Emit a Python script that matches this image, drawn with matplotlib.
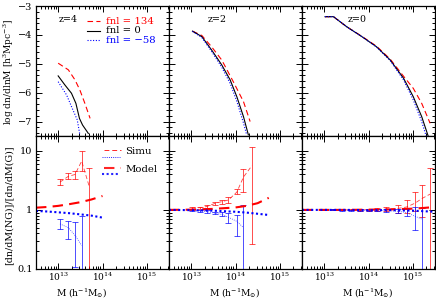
import numpy as np
import matplotlib
matplotlib.use("Agg")
import matplotlib.pyplot as plt
from matplotlib.ticker import FixedLocator, MultipleLocator, LogLocator, NullFormatter, FixedFormatter

plt.rcParams['font.family'] = 'DejaVu Serif'
plt.rcParams['mathtext.fontset'] = 'dejavuserif'
plt.rcParams['font.size'] = 6.8

W, H = 436, 301

# ---- top row: log dn/dlnM vs log10 M ----
z4_m_pos = [13.0, 13.23, 13.38, 13.49, 13.60, 13.72]
z4_y_pos = [-4.98, -5.21, -5.56, -5.91, -6.36, -6.89]
z4_m_zero = [13.0, 13.15, 13.30, 13.40, 13.48, 13.55, 13.68]
z4_y_zero = [-5.42, -5.73, -6.02, -6.37, -6.89, -7.12, -7.41]
z4_m_neg = [13.0, 13.19, 13.30, 13.43, 13.49]
z4_y_neg = [-5.62, -6.08, -6.48, -6.94, -7.46]

z2_m_pos = [13.03, 13.24, 13.46, 13.69, 13.95, 14.18, 14.33]
z2_y_pos = [-3.87, -4.02, -4.41, -4.87, -5.62, -6.31, -7.0]
z2_m_zero = [13.03, 13.24, 13.46, 13.69, 13.88, 14.03, 14.18, 14.29]
z2_y_zero = [-3.87, -4.06, -4.52, -5.04, -5.56, -6.14, -6.83, -7.46]
z2_m_neg = [13.03, 13.24, 13.46, 13.69, 13.88, 14.03, 14.18, 14.25]
z2_y_neg = [-3.88, -4.09, -4.57, -5.12, -5.68, -6.30, -7.05, -7.45]

z0_m_pos = [13.02, 13.21, 13.51, 13.85, 14.18, 14.49, 14.79, 15.01, 15.20, 15.39]
z0_y_pos = [-3.37, -3.37, -3.72, -4.05, -4.39, -4.84, -5.43, -5.85, -6.37, -7.06]
z0_m_zero = [13.02, 13.21, 13.51, 13.85, 14.18, 14.49, 14.79, 15.01, 15.20, 15.35]
z0_y_zero = [-3.37, -3.37, -3.72, -4.06, -4.41, -4.87, -5.50, -6.14, -6.83, -7.52]
z0_m_neg = [13.02, 13.21, 13.51, 13.85, 14.18, 14.49, 14.79, 15.01, 15.20, 15.30]
z0_y_neg = [-3.37, -3.37, -3.72, -4.06, -4.42, -4.89, -5.56, -6.25, -7.0, -7.5]

# ---- bottom row: ratio NG / G ----
# simulations (with error bars)
z4_sm_pos = [13.04, 13.23, 13.38, 13.53, 13.70]
z4_sr_pos = [2.95, 3.7, 3.97, 6.7, 2.5]
z4_slo_pos = [2.6, 3.28, 3.3, 4.5, 0.05]
z4_shi_pos = [3.36, 4.14, 4.5, 9.8, 5.1]
z4_sm_neg = [13.04, 13.23, 13.38, 13.53]
z4_sr_neg = [0.58, 0.5, 0.37, 0.25]
z4_slo_neg = [0.47, 0.32, 0.107, 0.05]
z4_shi_neg = [0.71, 0.65, 0.63, 0.79]

z2_sm_pos = [13.01, 13.2, 13.35, 13.54, 13.69, 13.84, 14.03, 14.18, 14.37]
z2_sr_pos = [1.07, 1.09, 1.14, 1.29, 1.38, 1.47, 2.0, 3.6, 5.6]
z2_slo_pos = [1.04, 1.05, 1.09, 1.22, 1.28, 1.29, 1.85, 2.0, 0.26]
z2_shi_pos = [1.1, 1.13, 1.2, 1.36, 1.48, 1.67, 2.3, 4.9, 11.4]
z2_sm_neg = [13.01, 13.2, 13.35, 13.54, 13.69, 13.84, 14.03, 14.18]
z2_sr_neg = [0.97, 0.96, 0.94, 0.88, 0.84, 0.75, 0.64, 0.5]
z2_slo_neg = [0.95, 0.93, 0.9, 0.84, 0.78, 0.6, 0.36, 0.05]
z2_shi_neg = [0.99, 0.99, 0.98, 0.93, 0.92, 0.88, 0.83, 1.2]

z0_sm_pos = [13.0, 13.2, 13.4, 13.6, 13.8, 14.0, 14.2, 14.4, 14.67, 14.86, 15.05, 15.2, 15.39]
z0_sr_pos = [1.0, 1.0, 1.0, 1.0, 1.0, 1.01, 1.02, 1.03, 1.06, 1.12, 1.3, 1.55, 1.85]
z0_slo_pos = [0.98, 0.98, 0.98, 0.98, 0.97, 0.97, 0.96, 0.95, 0.9, 0.88, 0.95, 0.77, 0.05]
z0_shi_pos = [1.02, 1.02, 1.02, 1.02, 1.03, 1.04, 1.07, 1.1, 1.2, 1.47, 2.03, 2.63, 5.1]
z0_sm_neg = [13.0, 13.2, 13.4, 13.6, 13.8, 14.0, 14.2, 14.4, 14.67, 14.86, 15.05, 15.2]
z0_sr_neg = [1.0, 1.0, 0.99, 0.99, 0.99, 0.98, 0.98, 0.97, 0.95, 0.9, 0.78, 0.7]
z0_slo_neg = [0.98, 0.98, 0.97, 0.97, 0.96, 0.95, 0.94, 0.92, 0.88, 0.8, 0.46, 0.05]
z0_shi_neg = [1.02, 1.02, 1.01, 1.01, 1.02, 1.01, 1.02, 1.03, 1.04, 1.02, 1.14, 1.07]

# models
z4_mm = [12.5, 12.75, 13.0, 13.25, 13.5, 13.75, 14.0]
z4_mr_pos = [1.09, 1.12, 1.17, 1.25, 1.35, 1.5, 1.72]
z4_mr_neg = [0.96, 0.94, 0.91, 0.88, 0.84, 0.8, 0.74]
z2_mm = [12.5, 13.0, 13.5, 13.75, 14.0, 14.25, 14.5, 14.75]
z2_mr_pos = [1.0, 1.01, 1.04, 1.07, 1.1, 1.17, 1.3, 1.6]
z2_mr_neg = [1.0, 0.99, 0.97, 0.95, 0.93, 0.9, 0.86, 0.82]
z0_mm = [12.5, 13.0, 13.5, 14.0, 14.5, 15.0, 15.25, 15.5]
z0_mr_pos = [1.0, 1.0, 1.0, 1.01, 1.02, 1.05, 1.08, 1.12]
z0_mr_neg = [1.0, 1.0, 1.0, 0.99, 0.99, 0.97, 0.95, 0.93]

redshift_labels = ['z=4', 'z=2', 'z=0']
redshift_xfrac = [0.17, 0.29, 0.34]
fnl_labels = ['fnl = 134', 'fnl = 0', 'fnl = \u221258']
fnl_colors = ['red', 'black', 'blue']

top_data = [
    [(z4_m_pos, z4_y_pos), (z4_m_zero, z4_y_zero), (z4_m_neg, z4_y_neg)],
    [(z2_m_pos, z2_y_pos), (z2_m_zero, z2_y_zero), (z2_m_neg, z2_y_neg)],
    [(z0_m_pos, z0_y_pos), (z0_m_zero, z0_y_zero), (z0_m_neg, z0_y_neg)],
]
simu_data = [
    [(z4_sm_pos, z4_sr_pos, z4_slo_pos, z4_shi_pos), (z4_sm_neg, z4_sr_neg, z4_slo_neg, z4_shi_neg)],
    [(z2_sm_pos, z2_sr_pos, z2_slo_pos, z2_shi_pos), (z2_sm_neg, z2_sr_neg, z2_slo_neg, z2_shi_neg)],
    [(z0_sm_pos, z0_sr_pos, z0_slo_pos, z0_shi_pos), (z0_sm_neg, z0_sr_neg, z0_slo_neg, z0_shi_neg)],
]
model_data = [
    (z4_mm, z4_mr_pos, z4_mr_neg),
    (z2_mm, z2_mr_pos, z2_mr_neg),
    (z0_mm, z0_mr_pos, z0_mr_neg),
]

DASH = dict(ls=(0, (5, 3)))
SOLID = dict(ls='-')
DOT = dict(ls=(0, (1, 1.5)))
top_styles = [DASH, SOLID, DOT]


def px(x, y):
    return x / W, 1 - y / H


def style_axis(ax):
    ax.tick_params(which='both', direction='in', top=True, right=True, width=0.7)
    ax.tick_params(which='major', length=4.5)
    ax.tick_params(which='minor', length=2.3)
    for s in ax.spines.values():
        s.set_linewidth(0.9)


fig = plt.figure(figsize=(W / 100, H / 100), dpi=100)
lefts = [36, 169, 302]
pw = 133
top_axes, bot_axes = [], []
for l in lefts:
    x0, y0 = px(l, 136)
    top_axes.append(fig.add_axes([x0, y0, pw / W, 130 / H]))
    x0, y0 = px(l, 269)
    bot_axes.append(fig.add_axes([x0, y0, pw / W, 133 / H]))

for i, at in enumerate(top_axes):
    for (m, y), c, st in zip(top_data[i], fnl_colors, top_styles):
        at.plot(10 ** np.array(m), y, color=c, lw=0.8, **st)
    at.set_xscale('log')
    at.set_xlim(10 ** 12.5, 10 ** 15.5)
    at.set_ylim(-7.5, -3)
    at.yaxis.set_major_locator(FixedLocator([-3, -4, -5, -6, -7]))
    at.yaxis.set_minor_locator(MultipleLocator(0.2))
    at.xaxis.set_major_locator(FixedLocator([1e13, 1e14, 1e15]))
    at.xaxis.set_minor_locator(LogLocator(base=10, subs=np.arange(2, 10), numticks=10))
    at.xaxis.set_major_formatter(NullFormatter())
    at.xaxis.set_minor_formatter(NullFormatter())
    if i > 0:
        at.yaxis.set_major_formatter(NullFormatter())
    else:
        at.yaxis.set_major_formatter(FixedFormatter(['\u22123', '\u22124', '\u22125', '\u22126', '\u22127']))
    style_axis(at)
    at.tick_params(axis='y', which='major', pad=2.5, labelsize=7)
    at.text(redshift_xfrac[i], 0.895, redshift_labels[i], transform=at.transAxes,
            fontsize=6.8, ha='left', va='center')

fig.text(*px(9, 72), 'log dn/dlnM [h$^3$Mpc$^{-3}$]', fontsize=6.5, rotation=90,
         ha='center', va='center')

# fnl legend (drawn in figure pixels, spilling past the first panel)
for k, (lab, c, st) in enumerate(zip(fnl_labels, fnl_colors, top_styles)):
    yy = 21 + 9.6 * k
    fig.add_artist(plt.Line2D([87 / W, 100 / W], [1 - yy / H] * 2, color=c, lw=0.8,
                              transform=fig.transFigure, **st))
    fig.text(*px(106, yy), lab, color=c, fontsize=7.3, ha='left', va='center')

for i, ab in enumerate(bot_axes):
    (mp, rp, lop, hip), (mn, rn, lon, hin) = simu_data[i]
    for m, r, lo, hi, c, st in [(mp, rp, lop, hip, 'red', DASH), (mn, rn, lon, hin, 'blue', DOT)]:
        mm = 10 ** np.array(m)
        r = np.array(r)
        yerr = [r - np.array(lo), np.array(hi) - r]
        ab.errorbar(mm, r, yerr=yerr, fmt='none', ecolor=c, elinewidth=0.7, capsize=2.2,
                    capthick=0.7, alpha=0.7)
        ab.plot(mm, r, color=c, lw=0.6, alpha=0.75, **st)
    m, rpos, rneg = model_data[i]
    ab.plot(10 ** np.array(m), rpos, color='red', lw=1.5, ls=(0, (5, 3)))
    ab.plot(10 ** np.array(m), rneg, color='blue', lw=1.5, ls=(0, (1, 1.2)))
    ab.set_xscale('log')
    ab.set_yscale('log')
    ab.set_xlim(10 ** 12.5, 10 ** 15.5)
    ab.set_ylim(0.1, 17.8)
    ab.xaxis.set_major_locator(FixedLocator([1e13, 1e14, 1e15]))
    ab.xaxis.set_major_formatter(FixedFormatter(['$10^{13}$', '$10^{14}$', '$10^{15}$']))
    ab.xaxis.set_minor_locator(LogLocator(base=10, subs=np.arange(2, 10), numticks=10))
    ab.xaxis.set_minor_formatter(NullFormatter())
    ab.yaxis.set_major_locator(FixedLocator([0.1, 1, 10]))
    ab.yaxis.set_minor_locator(LogLocator(base=10, subs=np.arange(2, 10), numticks=10))
    ab.yaxis.set_minor_formatter(NullFormatter())
    if i > 0:
        ab.yaxis.set_major_formatter(NullFormatter())
    else:
        ab.yaxis.set_major_formatter(FixedFormatter(['0.1', '1', '10']))
    style_axis(ab)
    ab.tick_params(axis='x', which='major', pad=1.2, labelsize=6.5)
    ab.tick_params(axis='y', which='major', pad=2.5, labelsize=7)

# x labels (first one sits left of its panel centre, as in the original)
for xc in [82, 235, 368]:
    fig.text(*px(xc, 293), 'M (h$^{-1}$M$_{\\odot}$)', fontsize=6.6, ha='center', va='center')

fig.text(*px(9, 205), '[dn/dM(NG)]/[dn/dM(G)]', fontsize=6.8, rotation=90,
         ha='center', va='center')

# Simu / Model legend
legend_rows = [('Simu', 0.7, 150, 157), ('Model', 1.5, 168, 174)]
for lab, lw, yr, yb in legend_rows:
    fig.add_artist(plt.Line2D([104 / W, 121 / W], [1 - yr / H] * 2, color='red', lw=lw,
                              ls=(0, (5, 3)), alpha=0.85, transform=fig.transFigure))
    fig.add_artist(plt.Line2D([102 / W, 120 / W], [1 - yb / H] * 2, color='blue', lw=lw,
                              ls=(0, (1, 1.2)), alpha=0.85, transform=fig.transFigure))
    fig.text(*px(125, yr + 1), lab, fontsize=7.3, ha='left', va='center')

fig.savefig('out.png', dpi=100)
